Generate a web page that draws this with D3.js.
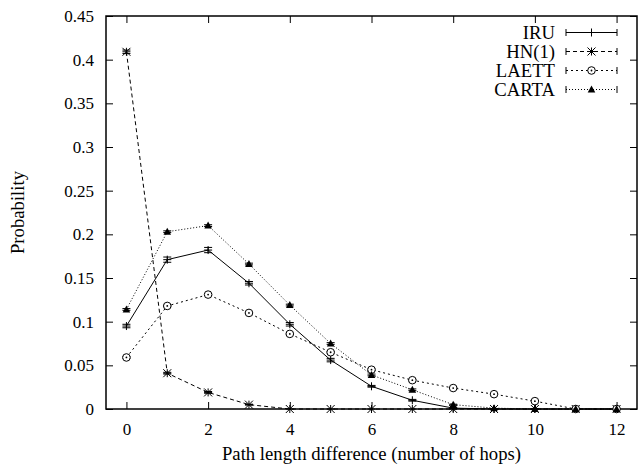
<!DOCTYPE html>
<html>
<head>
<meta charset="utf-8">
<script src="https://cdn.jsdelivr.net/npm/d3@7"></script>
<style>
  body { margin: 0; background: #fff; }
  svg text { font-family: "Liberation Serif", "Times New Roman", serif; font-size: 17px; fill: #000; }
  svg text.big { font-size: 18.7px; }
</style>
</head>
<body>
<div id="chart"></div>
<script>
// hops on x, probability on y
var hops = [0, 1, 2, 3, 4, 5, 6, 7, 8, 9, 10, 11, 12];
var iru = [0.095, 0.171, 0.182, 0.144, 0.097, 0.056, 0.026, 0.010, 0.001, 0, 0, 0, 0];
var iruErr = [0.002, 0.003, 0.003, 0.002, 0.002, 0.002, 0.001, 0.001, 0.0005, 0, 0, 0, 0];
var hn = [0.409, 0.041, 0.019, 0.005, 0, 0, 0, 0, 0, 0, 0, 0, 0];
var hnErr = [0.002, 0.001, 0.001, 0.0005, 0, 0, 0, 0, 0, 0, 0, 0, 0];
var laett = [0.059, 0.118, 0.131, 0.110, 0.086, 0.065, 0.045, 0.033, 0.024, 0.017, 0.009, 0, 0];
var laettErr = [0.001, 0.001, 0.001, 0.001, 0.001, 0.001, 0.001, 0.001, 0.001, 0.0005, 0.0005, 0, 0];
var carta = [0.114, 0.203, 0.210, 0.166, 0.119, 0.075, 0.039, 0.022, 0.005, 0.001, 0, 0, 0];
var cartaErr = [0.001, 0.001, 0.001, 0.001, 0.001, 0.001, 0.001, 0.001, 0.0005, 0, 0, 0, 0];
var seriesNames = ["IRU", "HN(1)", "LAETT", "CARTA"];
var xTicks = [0, 2, 4, 6, 8, 10, 12];
var yTicks = [0, 0.05, 0.1, 0.15, 0.2, 0.25, 0.3, 0.35, 0.4, 0.45];

var width = 641, height = 464,
    margins = {top: 16, right: 4, bottom: 55, left: 106},
    w = width - margins.left - margins.right,
    h = height - margins.top - margins.bottom;

var series = [
    {name: seriesNames[0], values: iru, err: iruErr, dash: null, marker: "plus"},
    {name: seriesNames[1], values: hn, err: hnErr, dash: "4,3", marker: "star"},
    {name: seriesNames[2], values: laett, err: laettErr, dash: "2,3", marker: "circle"},
    {name: seriesNames[3], values: carta, err: cartaErr, dash: "1,2", marker: "triangle"}
];

var x = d3.scaleLinear().domain([-0.5, 12.5]).range([0, w]);
var y = d3.scaleLinear().domain([0, 0.45]).range([h, 0]);

var svg = d3.select("#chart").append("svg")
    .attr("width", width)
    .attr("height", height);

var g = svg.append("g")
    .attr("transform", "translate(" + margins.left + "," + margins.top + ")");

var tickLen = 7;

function clean(a) {
    a.attr("font-family", null).attr("font-size", null);
    a.select(".domain").remove();
}

// axes with inward ticks, mirrored on top/right
g.append("g")
    .attr("transform", "translate(0," + h + ")")
    .call(d3.axisBottom(x).tickValues(xTicks).tickSizeInner(-tickLen).tickSizeOuter(0).tickPadding(14))
    .call(clean);
g.append("g")
    .call(d3.axisTop(x).tickValues(xTicks).tickSizeInner(-tickLen).tickSizeOuter(0).tickFormat(""))
    .call(clean);
g.append("g")
    .call(d3.axisLeft(y).tickValues(yTicks).tickSizeInner(-tickLen).tickSizeOuter(0).tickPadding(12)
        .tickFormat(function(d) { return String(+d.toFixed(2)); }))
    .call(clean);
g.append("g")
    .attr("transform", "translate(" + w + ",0)")
    .call(d3.axisRight(y).tickValues(yTicks).tickSizeInner(-tickLen).tickSizeOuter(0).tickFormat(""))
    .call(clean);

g.selectAll(".tick line").attr("stroke", "#000").attr("stroke-width", 1);

g.append("rect")
    .attr("width", w).attr("height", h)
    .attr("fill", "none").attr("stroke", "#000").attr("stroke-width", 1.5);

// labels
svg.append("text")
    .attr("class", "big")
    .attr("x", margins.left + w / 2).attr("y", 460)
    .attr("text-anchor", "middle")
    .text("Path length difference (number of hops)");
svg.append("text")
    .attr("class", "big")
    .attr("transform", "translate(24," + (margins.top + h / 2) + ") rotate(-90)")
    .attr("text-anchor", "middle")
    .text("Probability");

function drawMarker(sel, type) {
    var s = 4;
    if (type === "plus") {
        sel.append("path").attr("d", "M" + (-s) + ",0H" + s + "M0," + (-s) + "V" + s)
            .attr("stroke", "#000").attr("fill", "none");
    } else if (type === "star") {
        sel.append("path")
            .attr("d", "M" + (-s) + ",0H" + s + "M0," + (-s) + "V" + s +
                "M" + (-s) + "," + (-s) + "L" + s + "," + s + "M" + (-s) + "," + s + "L" + s + "," + (-s))
            .attr("stroke", "#000").attr("fill", "none");
    } else if (type === "circle") {
        sel.append("circle").attr("r", 3.8).attr("fill", "#fff").attr("stroke", "#000");
        sel.append("circle").attr("r", 0.9).attr("fill", "#000");
    } else if (type === "triangle") {
        sel.append("path").attr("d", "M0,-4L3.8,3L-3.8,3Z").attr("fill", "#000");
    }
}

var line = d3.line()
    .x(function(d) { return x(d.x); })
    .y(function(d) { return y(d.y); });

series.forEach(function(s) {
    var pts = hops.map(function(hp, i) { return {x: hp, y: s.values[i], e: s.err[i]}; });
    var sg = g.append("g");
    sg.append("path")
        .datum(pts)
        .attr("d", line)
        .attr("fill", "none")
        .attr("stroke", "#000")
        .attr("stroke-width", 1)
        .attr("stroke-dasharray", s.dash);
    // error bars
    sg.selectAll(".err").data(pts.filter(function(d) { return d.e > 0; }))
        .enter().append("path")
        .attr("d", function(d) {
            var x0 = x(d.x), y1 = y(d.y - d.e), y2 = y(d.y + d.e);
            return "M" + x0 + "," + y1 + "V" + y2 +
                "M" + (x0 - 4) + "," + y1 + "H" + (x0 + 4) +
                "M" + (x0 - 4) + "," + y2 + "H" + (x0 + 4);
        })
        .attr("stroke", "#000").attr("fill", "none");
    sg.selectAll(".pt").data(pts).enter().append("g")
        .attr("transform", function(d) { return "translate(" + x(d.x) + "," + y(d.y) + ")"; })
        .each(function() { drawMarker(d3.select(this), s.marker); });
});

// legend
var legend = svg.append("g");
series.forEach(function(s, i) {
    var ly = 32.5 + i * 19;
    var row = legend.append("g");
    row.append("text")
        .attr("class", "big")
        .attr("x", 555).attr("y", ly + 6)
        .attr("text-anchor", "end")
        .text(s.name);
    row.append("path")
        .attr("d", "M566," + ly + "H617")
        .attr("stroke", "#000").attr("fill", "none")
        .attr("stroke-dasharray", s.dash);
    row.append("path")
        .attr("d", "M566," + (ly - 3.5) + "V" + (ly + 3.5) + "M617," + (ly - 3.5) + "V" + (ly + 3.5))
        .attr("stroke", "#000").attr("fill", "none");
    var m = row.append("g").attr("transform", "translate(591.5," + ly + ")");
    drawMarker(m, s.marker);
});
</script>
</body>
</html>
